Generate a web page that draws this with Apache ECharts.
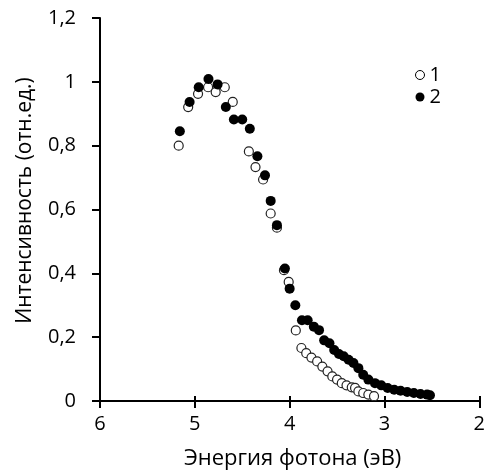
<!DOCTYPE html>
<html>
<head>
<meta charset="utf-8">
<script src="https://cdn.jsdelivr.net/npm/echarts@6/dist/echarts.min.js"></script>
<style>html,body{margin:0;padding:0;background:#fff}#c{width:488px;height:475px}</style>
</head>
<body>
<div id="c"></div>
<script>
// Series 1 (open circles): photon energy (eV), intensity (rel. units)
const s1x = [5.17, 5.07, 4.966, 4.86, 4.78, 4.684, 4.60, 4.43, 4.36, 4.28, 4.20, 4.134, 4.06, 4.01, 3.935, 3.876, 3.825, 3.77, 3.71, 3.655, 3.60, 3.55, 3.50, 3.45, 3.40, 3.345, 3.31, 3.275, 3.224, 3.17, 3.11];
const s1y = [0.80, 0.921, 0.9625, 0.983, 0.968, 0.983, 0.937, 0.782, 0.733, 0.694, 0.5875, 0.543, 0.41, 0.373, 0.221, 0.166, 0.15, 0.136, 0.124, 0.108, 0.093, 0.077, 0.067, 0.056, 0.049, 0.043, 0.041, 0.03, 0.025, 0.02, 0.015];
// Series 2 (filled circles)
const s2x = [5.158, 5.055, 4.959, 4.856, 4.76, 4.673, 4.588, 4.50, 4.42, 4.34, 4.26, 4.20, 4.134, 4.05, 4.0, 3.94, 3.87, 3.81, 3.745, 3.69, 3.636, 3.58, 3.53, 3.48, 3.43, 3.378, 3.327, 3.275, 3.224, 3.17, 3.10, 3.034, 2.966, 2.897, 2.83, 2.76, 2.69, 2.62, 2.55, 2.52];
const s2y = [0.845, 0.937, 0.983, 1.009, 0.992, 0.921, 0.882, 0.882, 0.853, 0.767, 0.707, 0.627, 0.551, 0.415, 0.352, 0.30, 0.253, 0.253, 0.233, 0.222, 0.19, 0.181, 0.16, 0.147, 0.14, 0.129, 0.119, 0.103, 0.082, 0.067, 0.056, 0.049, 0.041, 0.035, 0.032, 0.028, 0.025, 0.022, 0.02, 0.018];
const seriesNames = ['1', '2'];
const xTitle = 'Энергия фотона (эВ)';
const yTitle = 'Интенсивность (отн.ед.)';

const font = '"Open Sans", "Noto Sans", sans-serif';
const fmt = v => String(v).replace('.', ',');
const zip = (a, b) => a.map((v, i) => [v, b[i]]);

const chart = echarts.init(document.getElementById('c'), null, {renderer: 'canvas'});
const axisCommon = {
  type: 'value', min: 2, max: 6, interval: 1, inverse: true,
  splitLine: {show: false}
};
chart.setOption({
  animation: false,
  backgroundColor: '#fff',
  grid: {left: 100, right: 1, top: 18, bottom: 72, containLabel: false},
  legend: {
    orient: 'vertical', left: 410, top: 60, itemGap: 2,
    itemWidth: 9, itemHeight: 9,
    textStyle: {fontFamily: font, fontSize: 20, color: '#000'},
    data: [
      {name: seriesNames[0], icon: 'circle', itemStyle: {color: '#fff', borderColor: '#000', borderWidth: 1}},
      {name: seriesNames[1], icon: 'circle', itemStyle: {color: '#000'}}
    ]
  },
  xAxis: [
    Object.assign({}, axisCommon, {
      position: 'bottom',
      name: xTitle, nameLocation: 'middle', nameGap: 47,
      nameTextStyle: {fontFamily: font, fontSize: 22, color: '#000', padding: [0, 0, 0, 6]},
      axisLine: {show: true, onZero: false, lineStyle: {color: '#000', width: 2}},
      axisTick: {show: true, inside: false, length: 7, lineStyle: {color: '#000', width: 2}},
      axisLabel: {fontFamily: font, fontSize: 20, color: '#000', margin: 13, formatter: fmt}
    }),
    Object.assign({}, axisCommon, {
      position: 'bottom',
      axisLine: {show: false},
      axisTick: {show: true, inside: true, length: 5, lineStyle: {color: '#000', width: 2}},
      axisLabel: {show: false}
    })
  ],
  yAxis: {
    type: 'value', min: 0, max: 1.2, interval: 0.2,
    name: yTitle, nameLocation: 'middle', nameGap: 64,
    nameTextStyle: {fontFamily: font, fontSize: 21, color: '#000', padding: [0, 0, 0, 18]},
    axisLine: {show: true, lineStyle: {color: '#000', width: 2}},
    axisTick: {show: true, length: 8, lineStyle: {color: '#000', width: 2}},
    axisLabel: {fontFamily: font, fontSize: 20, color: '#000', margin: 24, formatter: fmt},
    splitLine: {show: false}
  },
  series: [
    {
      name: seriesNames[0], type: 'scatter', symbol: 'circle', symbolSize: 9,
      itemStyle: {color: '#fff', borderColor: '#222', borderWidth: 1.2, opacity: 1},
      data: zip(s1x, s1y), z: 2
    },
    {
      name: seriesNames[1], type: 'scatter', symbol: 'circle', symbolSize: 10,
      itemStyle: {color: '#000', opacity: 1},
      data: zip(s2x, s2y), z: 3
    }
  ]
});
</script>
</body>
</html>
